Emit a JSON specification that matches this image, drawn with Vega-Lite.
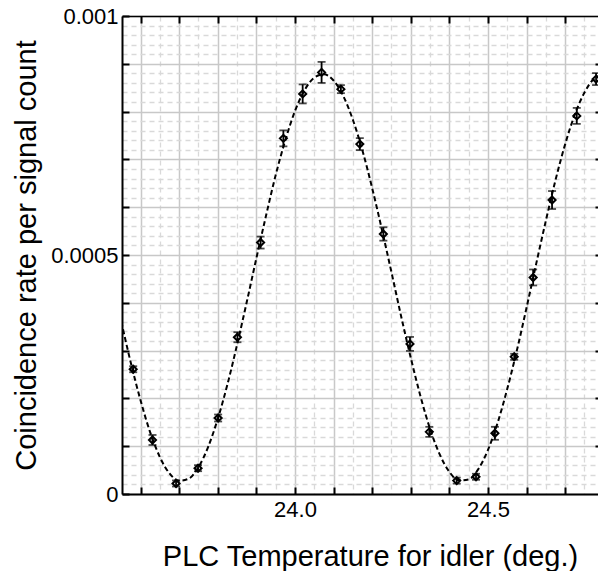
{
  "$schema": "https://vega.github.io/schema/vega-lite/v6.json",
  "width": 476,
  "height": 478,
  "autosize": "none",
  "padding": {"left": 122, "top": 16, "right": 0, "bottom": 77},
  "background": "white",
  "config": {
    "view": {"stroke": null},
    "axis": {"labelFont": "Liberation Sans", "titleFont": "Liberation Sans", "labelColor": "black", "titleColor": "black", "titleFontWeight": "normal"}
  },
  "datasets": {
    "fit": [
      {"T": 23.550, "rate": 0.000361}, {"T": 23.575, "rate": 0.000274}, {"T": 23.600, "rate": 0.000196},
      {"T": 23.625, "rate": 0.000129}, {"T": 23.650, "rate": 0.0000775}, {"T": 23.675, "rate": 0.0000431},
      {"T": 23.700, "rate": 0.0000278}, {"T": 23.725, "rate": 0.0000321}, {"T": 23.750, "rate": 0.000056},
      {"T": 23.775, "rate": 0.0000982}, {"T": 23.800, "rate": 0.000157}, {"T": 23.825, "rate": 0.000229},
      {"T": 23.850, "rate": 0.000312}, {"T": 23.875, "rate": 0.000401}, {"T": 23.900, "rate": 0.000493},
      {"T": 23.925, "rate": 0.000582}, {"T": 23.950, "rate": 0.000667}, {"T": 23.975, "rate": 0.000740},
      {"T": 24.000, "rate": 0.000801}, {"T": 24.025, "rate": 0.000845}, {"T": 24.050, "rate": 0.000871},
      {"T": 24.075, "rate": 0.000878}, {"T": 24.100, "rate": 0.000865}, {"T": 24.125, "rate": 0.000833},
      {"T": 24.150, "rate": 0.000783}, {"T": 24.175, "rate": 0.000718}, {"T": 24.200, "rate": 0.000640},
      {"T": 24.225, "rate": 0.000554}, {"T": 24.250, "rate": 0.000464}, {"T": 24.275, "rate": 0.000372},
      {"T": 24.300, "rate": 0.000285}, {"T": 24.325, "rate": 0.000205}, {"T": 24.350, "rate": 0.000136},
      {"T": 24.375, "rate": 0.0000828}, {"T": 24.400, "rate": 0.0000463}, {"T": 24.425, "rate": 0.0000286},
      {"T": 24.450, "rate": 0.0000305}, {"T": 24.475, "rate": 0.0000521}, {"T": 24.500, "rate": 0.0000922},
      {"T": 24.525, "rate": 0.000149}, {"T": 24.550, "rate": 0.000220}, {"T": 24.575, "rate": 0.000301},
      {"T": 24.600, "rate": 0.000390}, {"T": 24.625, "rate": 0.000482}, {"T": 24.650, "rate": 0.000572},
      {"T": 24.675, "rate": 0.000657}, {"T": 24.700, "rate": 0.000732}, {"T": 24.725, "rate": 0.000794},
      {"T": 24.750, "rate": 0.000840}, {"T": 24.775, "rate": 0.000869}, {"T": 24.785, "rate": 0.000874}
    ],
    "pts": [
      {"T": 23.581, "rate": 0.000261, "err": 0.0000063},
      {"T": 23.631, "rate": 0.000113, "err": 0.0000105},
      {"T": 23.692, "rate": 0.000022, "err": 0.0000063},
      {"T": 23.749, "rate": 0.000054, "err": 0.0000063},
      {"T": 23.801, "rate": 0.000159, "err": 0.0000073},
      {"T": 23.851, "rate": 0.000328, "err": 0.0000105},
      {"T": 23.911, "rate": 0.000526, "err": 0.0000125},
      {"T": 23.970, "rate": 0.000744, "err": 0.0000167},
      {"T": 24.020, "rate": 0.000837, "err": 0.0000199},
      {"T": 24.069, "rate": 0.000882, "err": 0.000022},
      {"T": 24.119, "rate": 0.000847, "err": 0.0000084},
      {"T": 24.168, "rate": 0.000732, "err": 0.0000125},
      {"T": 24.229, "rate": 0.000544, "err": 0.000014},
      {"T": 24.298, "rate": 0.000314, "err": 0.0000146},
      {"T": 24.348, "rate": 0.000130, "err": 0.0000105},
      {"T": 24.419, "rate": 0.000028, "err": 0.0000063},
      {"T": 24.469, "rate": 0.000036, "err": 0.0000063},
      {"T": 24.518, "rate": 0.000127, "err": 0.0000136},
      {"T": 24.568, "rate": 0.000287, "err": 0.0000063},
      {"T": 24.617, "rate": 0.000453, "err": 0.0000167},
      {"T": 24.666, "rate": 0.000615, "err": 0.0000188},
      {"T": 24.730, "rate": 0.000791, "err": 0.0000167},
      {"T": 24.780, "rate": 0.000868, "err": 0.0000125}
    ]
  },
  "resolve": {"axis": {"x": "independent", "y": "independent"}},
  "layer": [
    {
      "data": {"name": "fit"},
      "mark": {"type": "line", "color": "black", "strokeWidth": 2, "strokeDash": [5, 3], "interpolate": "monotone", "clip": true},
      "encoding": {
        "x": {"field": "T", "type": "quantitative", "scale": {"domain": [23.552, 24.785], "nice": false, "zero": false},
          "axis": {"orient": "bottom", "values": [23.65, 23.75, 23.85, 23.95, 24.05, 24.15, 24.25, 24.35, 24.45, 24.55, 24.65, 24.75],
            "grid": true, "gridColor": "#d9d9d9", "gridWidth": 1.3, "gridDash": [5, 4], "domain": false, "ticks": false, "labels": false, "title": null}},
        "y": {"field": "rate", "type": "quantitative", "scale": {"domain": [0, 0.001], "nice": false, "zero": false},
          "axis": {"orient": "left", "values": [0.00002, 0.00004, 0.00006, 0.00008, 0.00012, 0.00014, 0.00016, 0.00018, 0.00022, 0.00024, 0.00026, 0.00028, 0.00032, 0.00034, 0.00036, 0.00038, 0.00042, 0.00044, 0.00046, 0.00048, 0.00052, 0.00054, 0.00056, 0.00058, 0.00062, 0.00064, 0.00066, 0.00068, 0.00072, 0.00074, 0.00076, 0.00078, 0.00082, 0.00084, 0.00086, 0.00088, 0.00092, 0.00094, 0.00096, 0.00098],
            "grid": true, "gridColor": "#d9d9d9", "gridWidth": 1.3, "gridDash": [5, 4], "domain": false, "ticks": false, "labels": false, "title": null}}
      }
    },
    {
      "data": {"name": "pts"},
      "mark": {"type": "errorbar", "color": "black", "thickness": 1.8, "ticks": {"size": 8, "thickness": 1.8, "color": "black"}},
      "encoding": {
        "x": {"field": "T", "type": "quantitative", "scale": {"domain": [23.552, 24.785], "nice": false, "zero": false},
          "axis": {"orient": "bottom", "values": [23.6, 23.7, 23.8, 23.9, 24.0, 24.1, 24.2, 24.3, 24.4, 24.5, 24.6, 24.7],
            "labelExpr": "datum.value == 24 ? '24.0' : (datum.value == 24.5 ? '24.5' : '')",
            "grid": true, "gridColor": "#c8c8c8", "gridWidth": 1.5,
            "domain": true, "domainColor": "black", "domainWidth": 2,
            "ticks": true, "tickColor": "black", "tickWidth": 2, "tickSize": -7,
            "labels": true, "labelFontSize": 22, "labelPadding": 12, "labelFlush": false, "labelOverlap": false,
            "title": "PLC Temperature for idler (deg.)", "titleFontSize": 29, "titleX": 248, "titleY": 71, "titleBaseline": "alphabetic", "titleAlign": "center"}},
        "y": {"field": "rate", "type": "quantitative", "scale": {"domain": [0, 0.001], "nice": false, "zero": false},
          "axis": {"orient": "left", "values": [0, 0.0001, 0.0002, 0.0003, 0.0004, 0.0005, 0.0006, 0.0007, 0.0008, 0.0009, 0.001],
            "labelExpr": "datum.value == 0 ? '0' : (abs(datum.value - 0.0005) < 1e-9 ? '0.0005' : (abs(datum.value - 0.001) < 1e-9 ? '0.001' : ''))",
            "grid": true, "gridColor": "#c8c8c8", "gridWidth": 1.5,
            "domain": true, "domainColor": "black", "domainWidth": 2,
            "ticks": true, "tickColor": "black", "tickWidth": 2, "tickSize": -7,
            "labels": true, "labelFontSize": 22, "labelPadding": 11, "labelFlush": false, "labelOverlap": false, "labelBaseline": "middle",
            "title": "Coincidence rate per signal count", "titleFontSize": 29, "titleX": -87, "titleY": 239, "titleAngle": 270, "titleBaseline": "alphabetic", "titleAlign": "center"}},
        "yError": {"field": "err"}
      }
    },
    {
      "data": {"name": "pts"},
      "mark": {"type": "point", "shape": "diamond", "filled": false, "color": "black", "strokeWidth": 2, "size": 50, "opacity": 1},
      "encoding": {
        "x": {"field": "T", "type": "quantitative", "scale": {"domain": [23.552, 24.785], "nice": false, "zero": false},
          "axis": {"orient": "top", "values": [23.6, 23.7, 23.8, 23.9, 24.0, 24.1, 24.2, 24.3, 24.4, 24.5, 24.6, 24.7],
            "grid": false, "domain": true, "domainColor": "black", "domainWidth": 1.7,
            "ticks": true, "tickColor": "black", "tickWidth": 2, "tickSize": -7, "labels": false, "title": null}},
        "y": {"field": "rate", "type": "quantitative", "scale": {"domain": [0, 0.001], "nice": false, "zero": false},
          "axis": {"orient": "right", "values": [0.0001, 0.0002, 0.0003, 0.0004, 0.0005, 0.0006, 0.0007, 0.0008, 0.0009],
            "grid": false, "domain": false, "ticks": true, "tickColor": "black", "tickWidth": 2, "tickSize": -3, "labels": false, "title": null}}
      }
    }
  ]
}
